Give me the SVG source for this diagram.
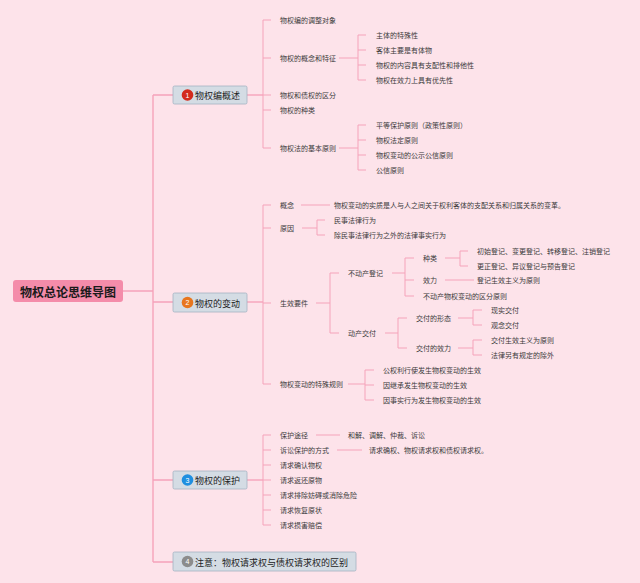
<svg xmlns="http://www.w3.org/2000/svg" width="640" height="583" viewBox="0 0 640 583">
<style>
.bg{fill:#FDE3EA}
.c{fill:none;stroke:#F5A3BA;stroke-width:1}
.cm{fill:none;stroke:#F5A3BA;stroke-width:1.4}
.t{font-family:"Noto Sans CJK SC","Noto Sans",sans-serif;font-size:7px;fill:#3a3a3a;dominant-baseline:central}
.mt{font-family:"Noto Sans CJK SC","Noto Sans",sans-serif;font-size:9px;fill:#222;dominant-baseline:central}
.rt{font-family:"Noto Sans CJK SC","Noto Sans",sans-serif;font-size:12px;font-weight:bold;fill:#1a1a1a;dominant-baseline:central}
.mb{fill:#D4DCE4;stroke:#A3B2C2;stroke-width:0.8}
.num{font-family:"Liberation Sans",sans-serif;font-size:7px;fill:#fff;text-anchor:middle;dominant-baseline:central}
</style>
<rect class="bg" x="0" y="0" width="640" height="583"/>
<g id="connectors">
<path class="cm" d="M123,291 H153 M153,95 V562 M153,95 H173 M153,302 H173 M153,480 H173 M153,562 H173"/>
<path class="cm" d="M247,95 H263"/>
<path class="c" d="M263,20 V148 M263,20 H271 M263,58 H271 M263,95 H271 M263,110 H271 M263,148 H271"/>
<path class="c" d="M339,58 H358 M358,35 V80 M358,35 H366 M358,50 H366 M358,65 H366 M358,80 H366"/>
<path class="c" d="M339,148 H358 M358,125 V170 M358,125 H366 M358,140 H366 M358,155 H366 M358,170 H366"/>
<path class="cm" d="M247,302 H263"/>
<path class="c" d="M263,205 V384 M263,205 H271 M263,228 H271 M263,303 H271 M263,384 H271"/>
<path class="c" d="M301,205 H330"/>
<path class="c" d="M302,228 H317 M317,220 V235 M317,220 H325 M317,235 H325"/>
<path class="c" d="M316,303 H330 M330,273 V333 M330,273 H339 M330,333 H339"/>
<path class="c" d="M392,273 H405 M405,258 V296 M405,258 H414 M405,280 H414 M405,296 H414"/>
<path class="c" d="M445,258 H460 M460,251 V266 M460,251 H468 M460,266 H468"/>
<path class="c" d="M445,280 H474"/>
<path class="c" d="M385,333 H398 M398,318 V348 M398,318 H407 M398,348 H407"/>
<path class="c" d="M458,318 H473 M473,310 V325 M473,310 H482 M473,325 H482"/>
<path class="c" d="M458,348 H473 M473,340 V355 M473,340 H482 M473,355 H482"/>
<path class="c" d="M348,384 H365 M365,370 V400 M365,370 H374 M365,385 H374 M365,400 H374"/>
<path class="cm" d="M247,480 H263"/>
<path class="c" d="M263,435 V525 M263,435 H271 M263,450 H271 M263,465 H271 M263,480 H271 M263,495 H271 M263,510 H271 M263,525 H271"/>
<path class="c" d="M316,435 H340"/>
<path class="c" d="M337,450 H362"/>
</g>
<g id="root">
<rect x="13" y="280" width="110" height="22" rx="3" fill="#F48CAA"/>
<text class="rt" x="20" y="291.5">物权总论思维导图</text>
</g>
<g id="n1">
<rect class="mb" x="173" y="86" width="74" height="18" rx="1.5"/>
<circle cx="187.5" cy="95" r="5.8" fill="#D32A1C"/>
<text class="num" x="187.5" y="95">1</text>
<text class="mt" x="195" y="95.5">物权编概述</text>
</g>
<g id="n1-children">
<text class="t" x="280" y="20">物权编的调整对象</text>
<text class="t" x="280" y="58">物权的概念和特征</text>
<text class="t" x="280" y="95">物权和债权的区分</text>
<text class="t" x="280" y="110">物权的种类</text>
<text class="t" x="280" y="148">物权法的基本原则</text>
<text class="t" x="376" y="35">主体的特殊性</text>
<text class="t" x="376" y="50">客体主要是有体物</text>
<text class="t" x="376" y="65">物权的内容具有支配性和排他性</text>
<text class="t" x="376" y="80">物权在效力上具有优先性</text>
<text class="t" x="376" y="125">平等保护原则（政策性原则）</text>
<text class="t" x="376" y="140">物权法定原则</text>
<text class="t" x="376" y="155">物权变动的公示公信原则</text>
<text class="t" x="376" y="170">公信原则</text>
</g>
<g id="n2">
<rect class="mb" x="173" y="293" width="74" height="19" rx="1.5"/>
<circle cx="187.5" cy="302.5" r="5.8" fill="#E8761E"/>
<text class="num" x="187.5" y="302.5">2</text>
<text class="mt" x="195" y="303">物权的变动</text>
</g>
<g id="n2-children">
<text class="t" x="280" y="205">概念</text>
<text class="t" x="334" y="205">物权变动的实质是人与人之间关于权利客体的支配关系和归属关系的变革。</text>
<text class="t" x="280" y="228">原因</text>
<text class="t" x="334" y="220">民事法律行为</text>
<text class="t" x="334" y="235">除民事法律行为之外的法律事实行为</text>
<text class="t" x="280" y="303">生效要件</text>
<text class="t" x="348" y="273">不动产登记</text>
<text class="t" x="423" y="258">种类</text>
<text class="t" x="477" y="251">初始登记、变更登记、转移登记、注销登记</text>
<text class="t" x="477" y="266">更正登记、异议登记与预告登记</text>
<text class="t" x="423" y="280">效力</text>
<text class="t" x="477" y="280">登记生效主义为原则</text>
<text class="t" x="423" y="296">不动产物权变动的区分原则</text>
<text class="t" x="348" y="333">动产交付</text>
<text class="t" x="416" y="318">交付的形态</text>
<text class="t" x="491" y="310">现实交付</text>
<text class="t" x="491" y="325">观念交付</text>
<text class="t" x="416" y="348">交付的效力</text>
<text class="t" x="491" y="340">交付生效主义为原则</text>
<text class="t" x="491" y="355">法律另有规定的除外</text>
<text class="t" x="280" y="384">物权变动的特殊规则</text>
<text class="t" x="383" y="370">公权利行使发生物权变动的生效</text>
<text class="t" x="383" y="385">因继承发生物权变动的生效</text>
<text class="t" x="383" y="400">因事实行为发生物权变动的生效</text>
</g>
<g id="n3">
<rect class="mb" x="173" y="471" width="74" height="18" rx="1.5"/>
<circle cx="187.5" cy="480" r="5.8" fill="#1F8FE0"/>
<text class="num" x="187.5" y="480">3</text>
<text class="mt" x="195" y="480.5">物权的保护</text>
</g>
<g id="n3-children">
<text class="t" x="280" y="435">保护途径</text>
<text class="t" x="348" y="435">和解、调解、仲裁、诉讼</text>
<text class="t" x="280" y="450">诉讼保护的方式</text>
<text class="t" x="369" y="450">请求确权、物权请求权和债权请求权。</text>
<text class="t" x="280" y="465">请求确认物权</text>
<text class="t" x="280" y="480">请求返还原物</text>
<text class="t" x="280" y="495">请求排除妨碍或消除危险</text>
<text class="t" x="280" y="510">请求恢复原状</text>
<text class="t" x="280" y="525">请求损害赔偿</text>
</g>
<g id="n4">
<rect class="mb" x="173" y="552" width="183" height="19" rx="1.5"/>
<circle cx="187.5" cy="561.5" r="5.8" fill="#8C8C8C"/>
<text class="num" x="187.5" y="561.5">4</text>
<text class="mt" x="195" y="562">注意：物权请求权与债权请求权的区别</text>
</g>
</svg>
